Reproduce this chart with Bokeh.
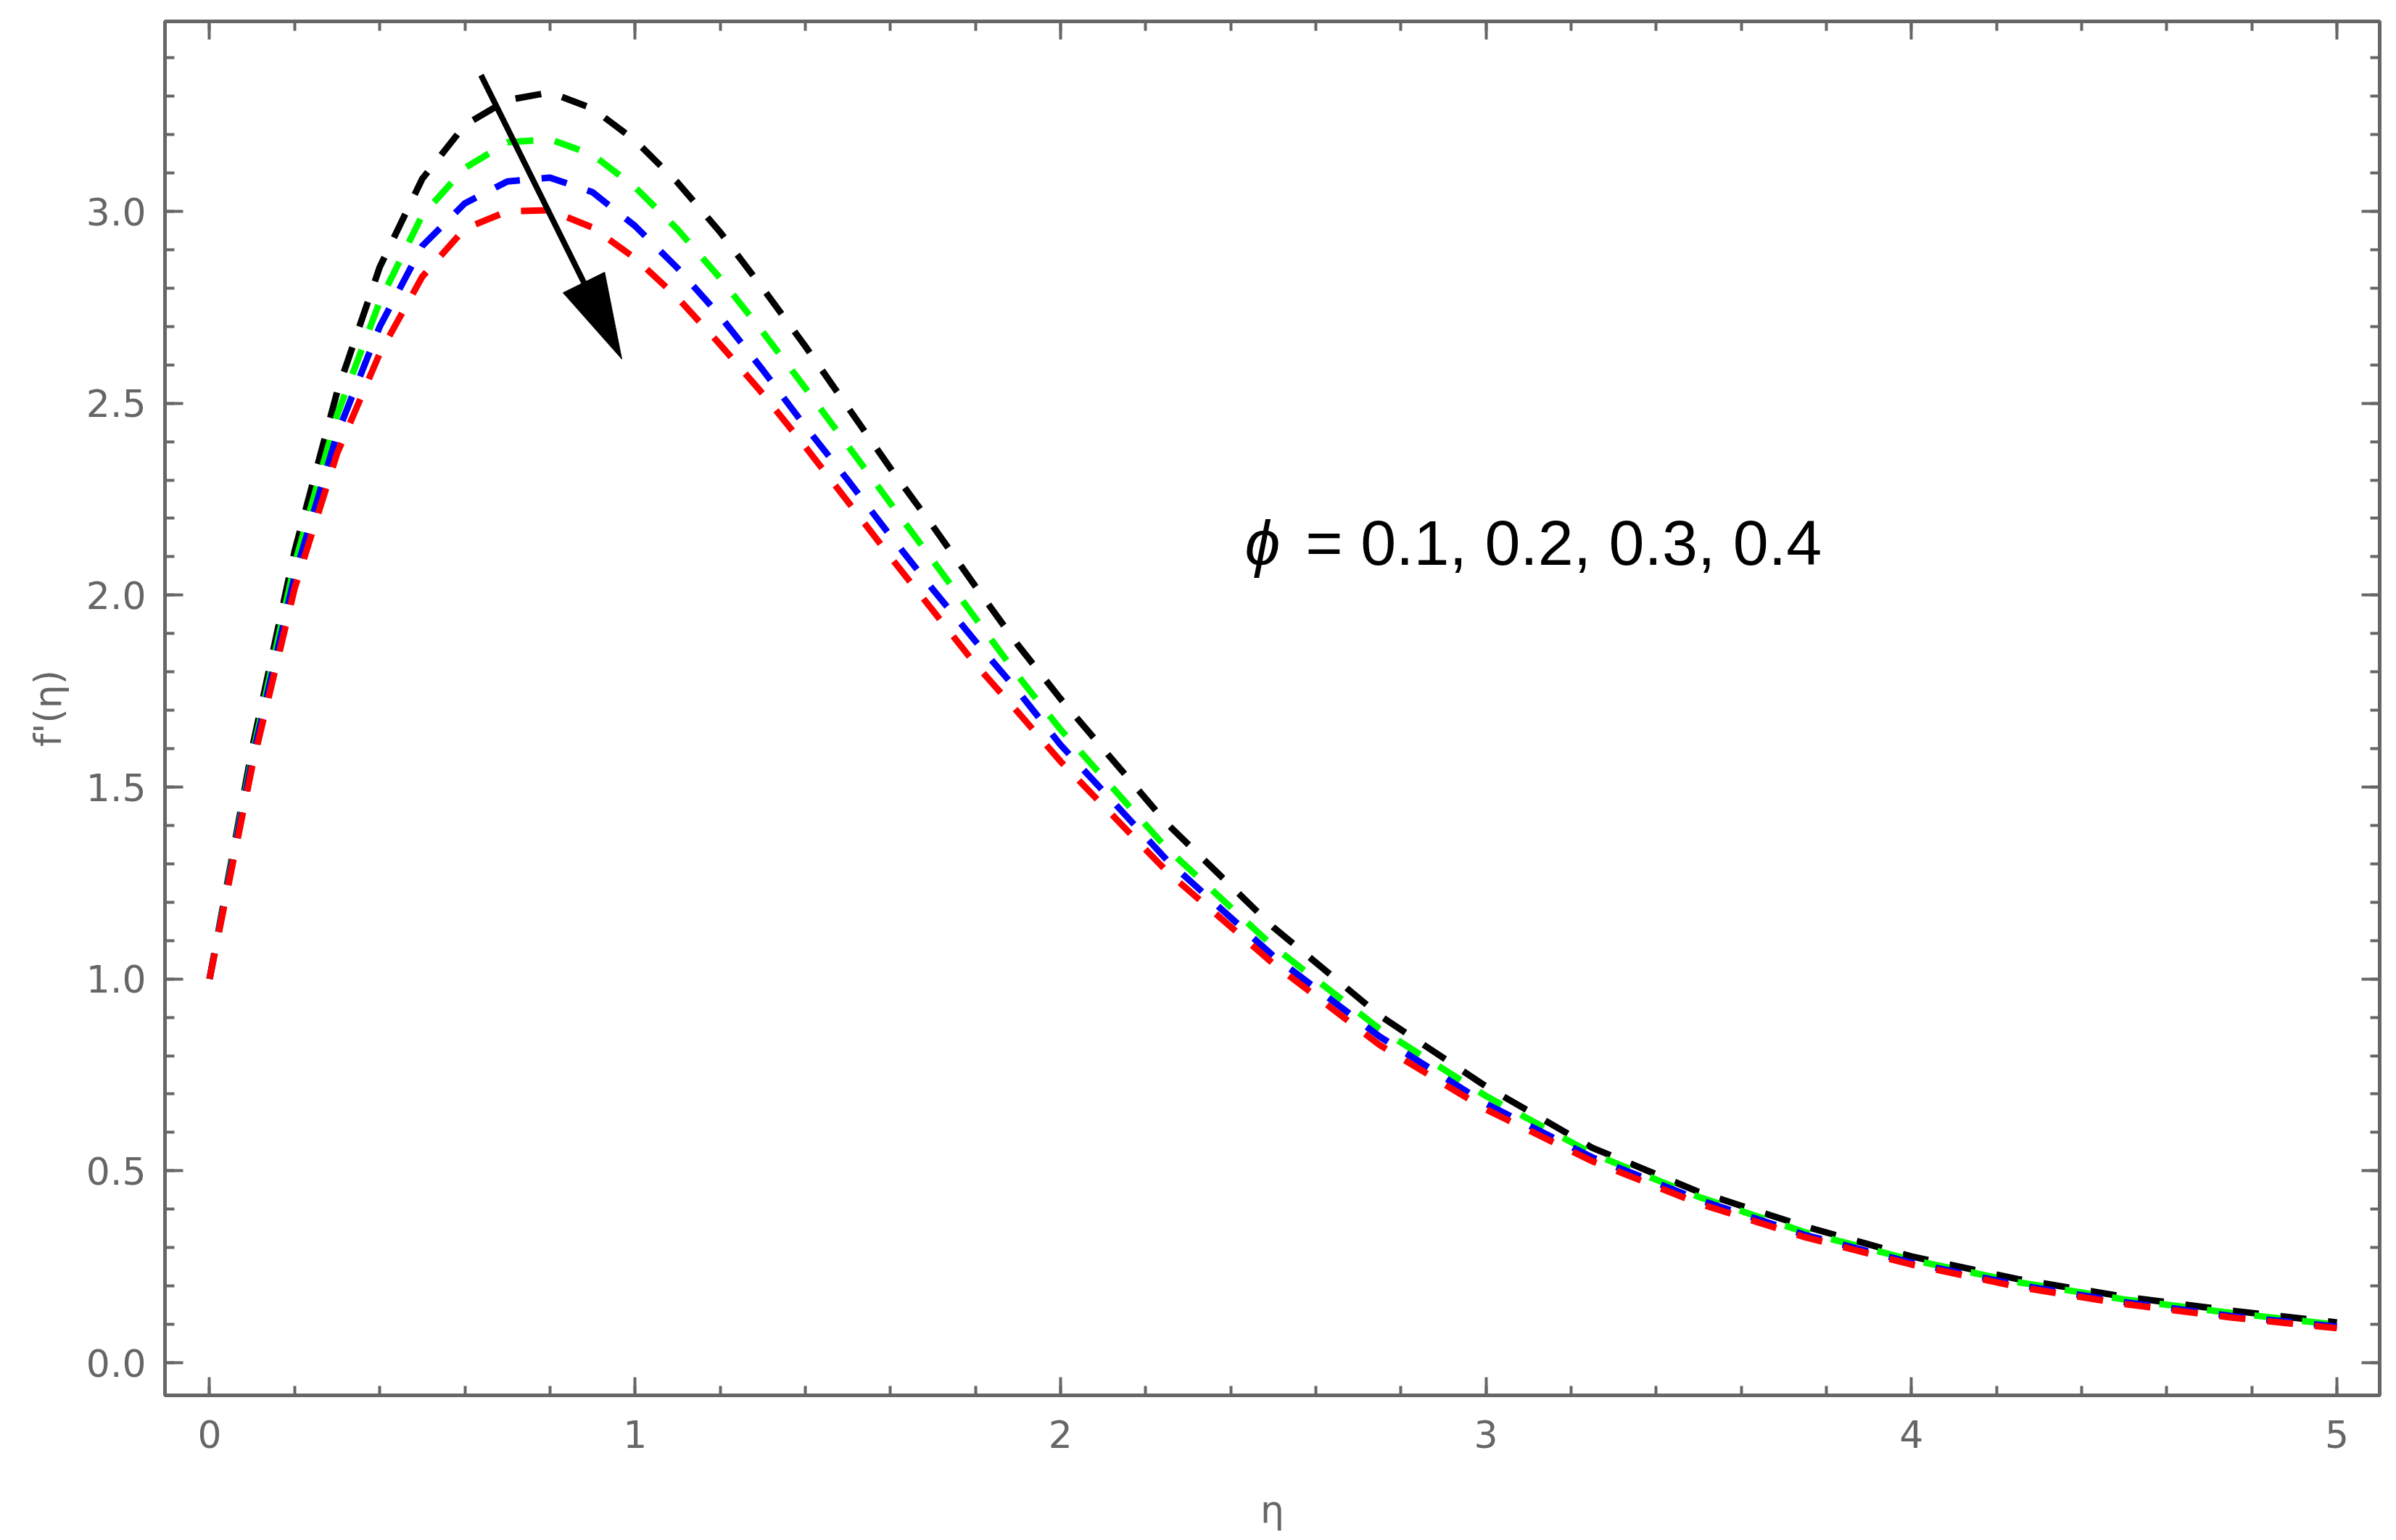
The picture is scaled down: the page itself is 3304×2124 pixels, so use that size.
from bokeh.plotting import figure
from bokeh.models import (Range1d, LinearAxis, SingleIntervalTicker, Label,
                          PrintfTickFormatter, CustomLabelingPolicy)
from bokeh.embed import file_html
from bokeh.resources import INLINE

# ---------------- data ----------------
ETA = [0.0, 0.1, 0.2, 0.3, 0.4, 0.5, 0.6, 0.7, 0.8, 0.9, 1.0,
       1.1, 1.2, 1.3, 1.4, 1.5, 1.6, 1.7, 1.8, 1.9, 2.0,
       2.25, 2.5, 2.75, 3.0, 3.25, 3.5, 3.75, 4.0, 4.25, 4.5, 4.75, 5.0]

F_PHI_01 = [1.00, 1.60, 2.115, 2.53, 2.855, 3.085, 3.225, 3.29, 3.31, 3.268, 3.185,
            3.075, 2.946, 2.80, 2.649, 2.49, 2.331, 2.18, 2.023, 1.87, 1.73,
            1.405, 1.135, 0.905, 0.72, 0.56, 0.445, 0.355, 0.277, 0.218, 0.172, 0.136, 0.105]
F_PHI_02 = [1.00, 1.58, 2.08, 2.47, 2.765, 2.99, 3.113, 3.18, 3.188, 3.148, 3.063,
            2.953, 2.826, 2.686, 2.54, 2.39, 2.24, 2.09, 1.94, 1.79, 1.65,
            1.34, 1.085, 0.87, 0.695, 0.545, 0.432, 0.34, 0.268, 0.21, 0.165, 0.13, 0.099]
F_PHI_03 = [1.00, 1.57, 2.05, 2.42, 2.70, 2.91, 3.021, 3.078, 3.088, 3.05, 2.962,
            2.852, 2.727, 2.587, 2.44, 2.30, 2.155, 2.015, 1.88, 1.75, 1.61,
            1.31, 1.06, 0.85, 0.675, 0.535, 0.425, 0.333, 0.261, 0.203, 0.158, 0.122, 0.094]
F_PHI_04 = [1.00, 1.553, 2.018, 2.37, 2.63, 2.83, 2.955, 3.00, 3.003, 2.958, 2.878,
            2.775, 2.653, 2.525, 2.387, 2.244, 2.10, 1.96, 1.82, 1.695, 1.567,
            1.28, 1.04, 0.828, 0.66, 0.525, 0.415, 0.327, 0.256, 0.198, 0.153, 0.118, 0.09]

SERIES = [F_PHI_01, F_PHI_02, F_PHI_03, F_PHI_04]
COLORS = ["#000000", "#00ff00", "#0000ff", "#ff0000"]

PHI_SYMBOL = "ϕ"
PHI_TEXT = "= 0.1, 0.2, 0.3, 0.4"
X_LABEL = "η"
Y_LABEL = "f'(η)"

X_RANGE = (-0.1048, 5.1006)
Y_RANGE = (-0.085, 3.495)

ARROW_TAIL = (0.638, 3.355)
ARROW_TIP = (0.969, 2.615)
PHI_POS = (2.433, 2.137)
PHI_TEXT_X = 2.576

# ---------------- layout / style ----------------
W, H = 3304, 2124
B_LEFT, B_RIGHT, B_TOP, B_BOTTOM = 227, 23, 29, 200
FRAME_W = W - B_LEFT - B_RIGHT
FRAME_H = H - B_TOP - B_BOTTOM
GRAY = "#666666"
TICK_FONT = "DejaVu Sans"

p = figure(width=W, height=H, x_range=Range1d(*X_RANGE), y_range=Range1d(*Y_RANGE),
           output_backend="svg", toolbar_location=None,
           min_border_left=B_LEFT, min_border_right=B_RIGHT,
           min_border_top=B_TOP, min_border_bottom=B_BOTTOM)
p.background_fill_color = "white"
p.border_fill_color = "white"
p.xgrid.grid_line_color = None
p.ygrid.grid_line_color = None
p.outline_line_color = GRAY
p.outline_line_width = 5


def style_axis(ax, show_labels):
    ax.axis_line_color = GRAY
    ax.axis_line_width = 5
    ax.major_tick_line_color = GRAY
    ax.major_tick_line_width = 4
    ax.minor_tick_line_color = GRAY
    ax.minor_tick_line_width = 4
    ax.major_tick_in = 25
    ax.major_tick_out = 0
    ax.minor_tick_in = 13
    ax.minor_tick_out = 0
    if show_labels:
        ax.major_label_text_font = TICK_FONT
        ax.major_label_text_font_size = "52px"
        ax.major_label_text_color = GRAY
        ax.axis_label_text_font = TICK_FONT
        ax.axis_label_text_font_size = "52px"
        ax.axis_label_text_color = GRAY
        ax.axis_label_text_font_style = "normal"
    else:
        ax.major_label_text_font_size = "10px"
        ax.major_label_standoff = 0
        ax.major_label_policy = CustomLabelingPolicy(
            code="for (const i of indices) { indices.unset(i) }\nreturn indices")


xa = p.xaxis[0]
xa.ticker = SingleIntervalTicker(interval=1, num_minor_ticks=5)
xa.axis_label = X_LABEL
style_axis(xa, True)
xa.major_label_standoff = 34
xa.axis_label_standoff = 52

ya = p.yaxis[0]
ya.ticker = SingleIntervalTicker(interval=0.5, num_minor_ticks=5)
ya.formatter = PrintfTickFormatter(format="%.1f")
ya.axis_label = Y_LABEL
style_axis(ya, True)
ya.major_label_standoff = 26
ya.axis_label_standoff = 20

top = LinearAxis(ticker=SingleIntervalTicker(interval=1, num_minor_ticks=5))
style_axis(top, False)
p.add_layout(top, "above")
right = LinearAxis(ticker=SingleIntervalTicker(interval=0.5, num_minor_ticks=5))
style_axis(right, False)
p.add_layout(right, "right")

# ---------------- curves ----------------
for ys, c in zip(SERIES, COLORS):
    p.line(ETA, ys, line_color=c, line_width=9, line_dash="36 30")

# ---------------- arrow ----------------
sx = FRAME_W / (X_RANGE[1] - X_RANGE[0])
sy = FRAME_H / (Y_RANGE[1] - Y_RANGE[0])
HEAD_LEN, HEAD_W = 118, 64
dxp = (ARROW_TIP[0] - ARROW_TAIL[0]) * sx
dyp = (ARROW_TIP[1] - ARROW_TAIL[1]) * sy
L = (dxp ** 2 + dyp ** 2) ** 0.5
ux, uy = dxp / L, dyp / L
bxp, byp = -ux * HEAD_LEN, -uy * HEAD_LEN
nx, ny = -uy, ux
base = (ARROW_TIP[0] + bxp / sx, ARROW_TIP[1] + byp / sy)
c1 = (ARROW_TIP[0] + (bxp + nx * HEAD_W / 2) / sx, ARROW_TIP[1] + (byp + ny * HEAD_W / 2) / sy)
c2 = (ARROW_TIP[0] + (bxp - nx * HEAD_W / 2) / sx, ARROW_TIP[1] + (byp - ny * HEAD_W / 2) / sy)
p.segment(x0=[ARROW_TAIL[0]], y0=[ARROW_TAIL[1]], x1=[base[0] + ux * 10 / sx],
          y1=[base[1] + uy * 10 / sy], line_color="black", line_width=8)
p.patch([ARROW_TIP[0], c1[0], c2[0]], [ARROW_TIP[1], c1[1], c2[1]],
        fill_color="black", line_color="black", line_width=1)

# ---------------- annotation text ----------------
p.add_layout(Label(x=PHI_POS[0], y=PHI_POS[1], text=PHI_SYMBOL, text_font="Liberation Sans",
                   text_font_style="italic", text_font_size="88px", text_color="black",
                   text_baseline="alphabetic", text_align="left"))
p.add_layout(Label(x=PHI_TEXT_X, y=PHI_POS[1], text=PHI_TEXT, text_font="Liberation Sans",
                   text_font_size="88px", text_color="black",
                   text_baseline="alphabetic", text_align="left"))

open("out.html", "w").write(file_html(p, INLINE))
